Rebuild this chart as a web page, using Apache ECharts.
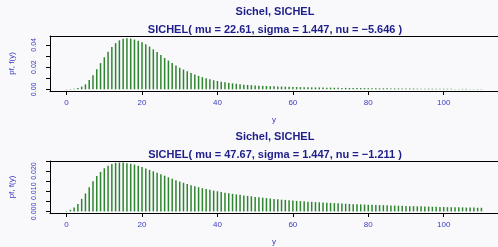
<!DOCTYPE html>
<html>
<head>
<meta charset="utf-8">
<script src="https://cdn.jsdelivr.net/npm/echarts@6/dist/echarts.min.js"></script>
<style>
  html, body { margin: 0; padding: 0; background: #f9f9fc; }
  #chart { width: 498px; height: 247px; }
</style>
</head>
<body>
<div id="chart"></div>
<script>
// y = 0..110
var yValues = [];
for (var i = 0; i <= 110; i++) yValues.push(i);

// SICHEL( mu = 22.61, sigma = 1.447, nu = -5.646 )
var pf1 = [
  0.0002, 0.0003, 0.0006, 0.0012, 0.0025, 0.0045, 0.0083, 0.0127, 0.0180, 0.0236,
  0.0289, 0.0338, 0.0381, 0.0416, 0.0441, 0.0455, 0.0460, 0.0457, 0.0448, 0.0437,
  0.0423, 0.0405, 0.0385, 0.0360, 0.0335, 0.0308, 0.0282, 0.0259, 0.0237, 0.0214,
  0.0194, 0.0178, 0.0163, 0.0148, 0.0134, 0.0121, 0.0110, 0.0099, 0.0090, 0.0082,
  0.0075, 0.0069, 0.0063, 0.0058, 0.0054, 0.0050, 0.0046, 0.0042, 0.0039, 0.0037,
  0.0035, 0.0033, 0.0031, 0.0030, 0.0028, 0.0027, 0.0026, 0.0025, 0.0024, 0.0023,
  0.0022, 0.0021, 0.0020, 0.0019, 0.0019, 0.0018, 0.0017, 0.0017, 0.0016, 0.0015,
  0.0015, 0.0014, 0.0014, 0.0013, 0.0013, 0.0012, 0.0012, 0.0012, 0.0011, 0.0011,
  0.0010, 0.0010, 0.0010, 0.0009, 0.0009, 0.0009, 0.0008, 0.0008, 0.0008, 0.0008,
  0.0007, 0.0007, 0.0007, 0.0006, 0.0006, 0.0006, 0.0006, 0.0005, 0.0005, 0.0005,
  0.0005, 0.0005, 0.0005, 0.0004, 0.0004, 0.0004, 0.0004, 0.0004, 0.0004, 0.0003,
  0.0003
];

// SICHEL( mu = 47.67, sigma = 1.447, nu = -1.211 )
var pf2 = [
  0.0002, 0.0008, 0.0019, 0.0037, 0.0062, 0.0089, 0.0120, 0.0150, 0.0176, 0.0196,
  0.0214, 0.0227, 0.0235, 0.0241, 0.0242, 0.0242, 0.0239, 0.0236, 0.0232, 0.0226,
  0.0220, 0.0213, 0.0206, 0.0199, 0.0192, 0.0184, 0.0177, 0.0169, 0.0162, 0.0155,
  0.0148, 0.0142, 0.0136, 0.0130, 0.0125, 0.0120, 0.0115, 0.0111, 0.0107, 0.0103,
  0.0100, 0.0096, 0.0093, 0.0090, 0.0087, 0.0084, 0.0082, 0.0079, 0.0077, 0.0075,
  0.0072, 0.0070, 0.0068, 0.0066, 0.0064, 0.0062, 0.0060, 0.0058, 0.0057, 0.0055,
  0.0054, 0.0052, 0.0051, 0.0050, 0.0048, 0.0047, 0.0046, 0.0045, 0.0044, 0.0043,
  0.0042, 0.0041, 0.0040, 0.0039, 0.0038, 0.0037, 0.0036, 0.0036, 0.0035, 0.0034,
  0.0033, 0.0033, 0.0032, 0.0031, 0.0031, 0.0030, 0.0029, 0.0029, 0.0028, 0.0028,
  0.0027, 0.0026, 0.0026, 0.0025, 0.0025, 0.0024, 0.0024, 0.0023, 0.0023, 0.0022,
  0.0022, 0.0021, 0.0021, 0.0021, 0.0020, 0.0020, 0.0019, 0.0019, 0.0019, 0.0018,
  0.0018
];

var xTicks = [0, 20, 40, 60, 80, 100];
var yTicks1 = [0, 0.01, 0.02, 0.03, 0.04];
var yLabels1 = [0, 0.02, 0.04];
var yTicks2 = [0, 0.005, 0.01, 0.015, 0.02, 0.025];
var yLabels2 = [0, 0.01, 0.02];

var mainTitle = 'Sichel, SICHEL';
var subTitle1 = 'SICHEL( mu = 22.61, sigma = 1.447, nu = \u22125.646 )';
var subTitle2 = 'SICHEL( mu = 47.67, sigma = 1.447, nu = \u22121.211 )';

var font = 'Liberation Sans, Arial, Helvetica, sans-serif';
var navy = '#1e1e8a';
var blue = '#3a3ac0';
var barColor = '#2f852f';

function pairs(vals) {
  return vals.map(function (v, i) { return [yValues[i], v]; });
}

function xAxisFor(idx) {
  return {
    type: 'value', gridIndex: idx, min: -4.4, max: 114.4,
    name: 'y', nameLocation: 'middle', nameGap: 25,
    nameTextStyle: { color: blue, fontSize: 8, fontFamily: font },
    axisLine: { show: true, onZero: false, lineStyle: { color: '#000', width: 1 } },
    axisTick: { show: true, length: 4, customValues: xTicks, lineStyle: { color: '#000' } },
    axisLabel: { customValues: xTicks, color: blue, fontSize: 8, fontFamily: font, margin: 8 },
    splitLine: { show: false }
  };
}

// plain line along the top of each panel
function topLine(idx) {
  return {
    type: 'value', gridIndex: idx, position: 'top', min: -4.4, max: 114.4,
    axisLine: { show: true, onZero: false, lineStyle: { color: '#000', width: 1 } },
    axisTick: { show: false }, axisLabel: { show: false }, splitLine: { show: false }
  };
}

function yAxisFor(idx, min, max, ticks, labels, digits) {
  return {
    type: 'value', gridIndex: idx, min: min, max: max,
    name: 'pf, f(y)', nameLocation: 'middle', nameGap: 34,
    nameTextStyle: { color: blue, fontSize: 8, fontFamily: font },
    axisLine: { show: true, onZero: false, lineStyle: { color: '#000', width: 1 } },
    axisTick: { show: true, length: 4, customValues: ticks, lineStyle: { color: '#000' } },
    axisLabel: {
      customValues: labels, rotate: 90, color: blue, fontSize: 7, fontFamily: font, margin: 12,
      formatter: function (v) { return v.toFixed(digits); }
    },
    splitLine: { show: false }
  };
}

function titleAt(text, top) {
  return {
    text: text, left: 275, top: top, textAlign: 'center', padding: 0,
    textStyle: { color: navy, fontSize: 11, fontWeight: 'bold', fontFamily: font }
  };
}

var chart = echarts.init(document.getElementById('chart'), null, { renderer: 'canvas' });
chart.setOption({
  backgroundColor: '#f9f9fc',
  animation: false,
  title: [
    titleAt(mainTitle, 6),
    titleAt(subTitle1, 24),
    titleAt(mainTitle, 131),
    titleAt(subTitle2, 149)
  ],
  grid: [
    { left: 49, top: 36, width: 451, height: 55 },
    { left: 49, top: 161, width: 451, height: 56 }
  ],
  xAxis: [xAxisFor(0), xAxisFor(1), topLine(0), topLine(1)],
  yAxis: [
    yAxisFor(0, -0.0015, 0.048, yTicks1, yLabels1, 2),
    yAxisFor(1, -0.0008, 0.025, yTicks2, yLabels2, 3)
  ],
  series: [
    { type: 'bar', xAxisIndex: 0, yAxisIndex: 0, barWidth: 1.5, data: pairs(pf1),
      itemStyle: { color: barColor }, silent: true },
    { type: 'bar', xAxisIndex: 1, yAxisIndex: 1, barWidth: 1.5, data: pairs(pf2),
      itemStyle: { color: barColor }, silent: true }
  ]
});
</script>
</body>
</html>
